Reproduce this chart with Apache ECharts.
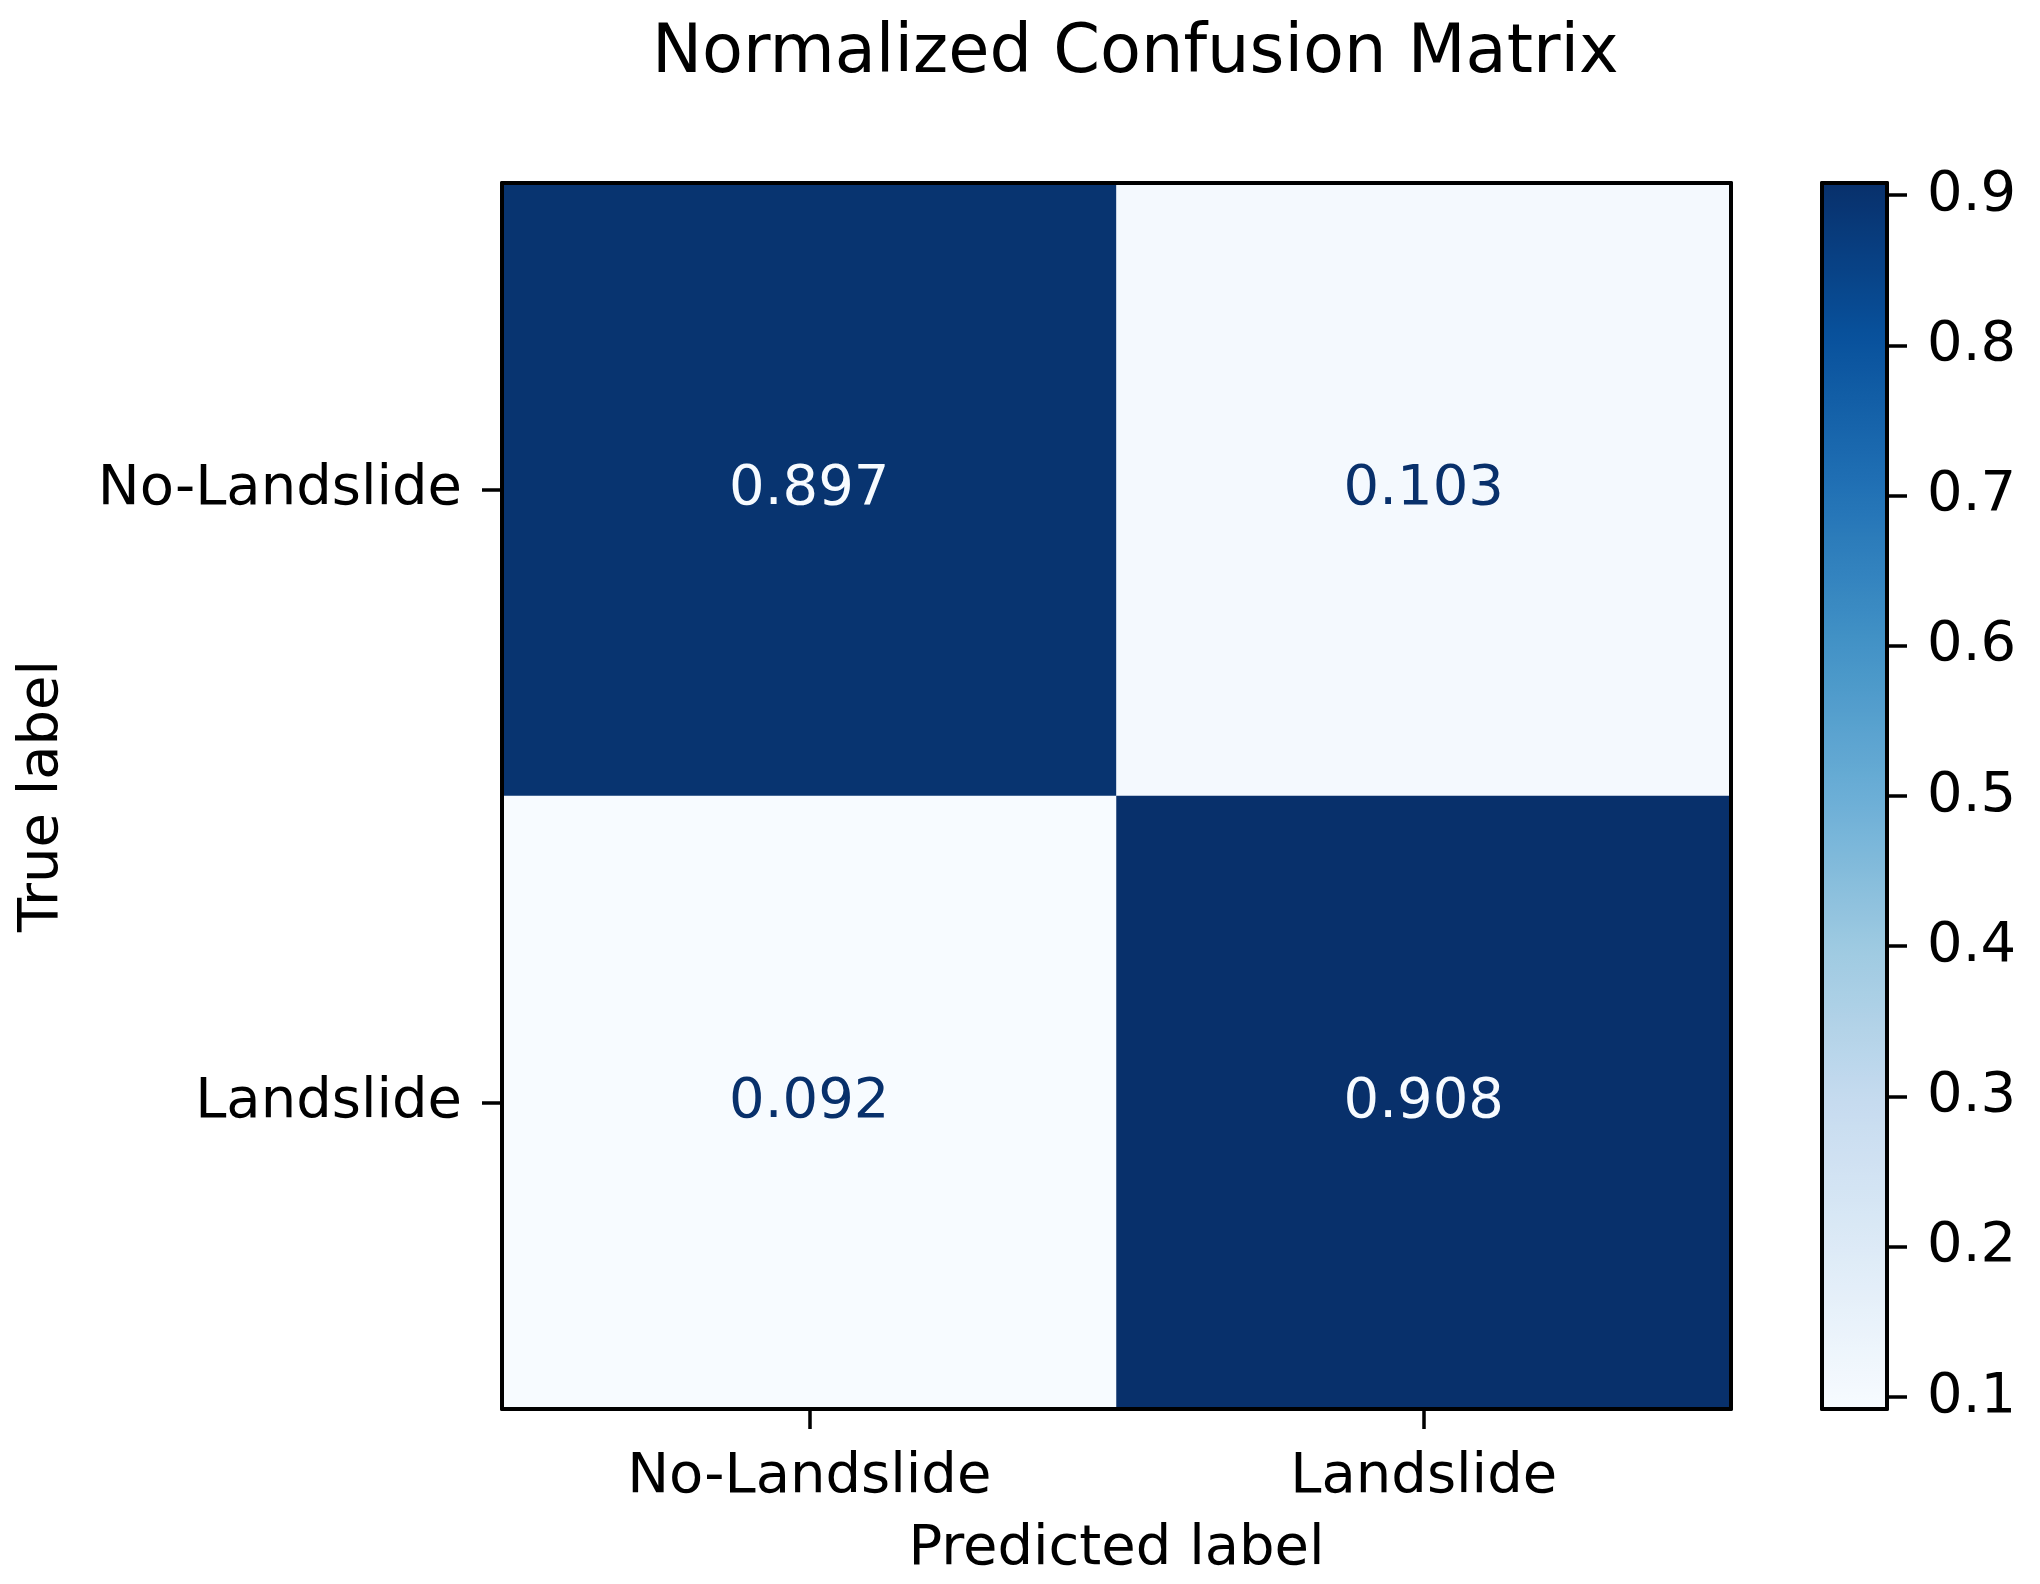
<!DOCTYPE html>
<html>
<head>
<meta charset="utf-8">
<script src="https://cdn.jsdelivr.net/npm/echarts@6/dist/echarts.min.js"></script>
<style>
html,body{margin:0;padding:0;background:#fff;}
#chart{width:2040px;height:1584px;}
</style>
</head>
<body>
<div id="chart"></div>
<script>
// ---- data ----
const predictedLabels = ['No-Landslide', 'Landslide'];
const trueLabels = ['No-Landslide', 'Landslide'];
// rows = true label, cols = predicted label
const matrixRow0 = [0.897, 0.103];
const matrixRow1 = [0.092, 0.908];
const colorbarTicks = [0.1, 0.2, 0.3, 0.4, 0.5, 0.6, 0.7, 0.8, 0.9];
const blues = ['#f7fbff', '#deebf7', '#c6dbef', '#9ecae1', '#6baed6', '#4292c6', '#2171b5', '#08519c', '#08306b'];

const rows = [matrixRow0, matrixRow1];
const cells = [];
rows.forEach((r, yi) => r.forEach((v, xi) => cells.push([xi, yi, v])));
const allVals = cells.map(c => c[2]);
const vMin = Math.min(...allVals);
const vMax = Math.max(...allVals);

const FONT = 'DejaVu Sans';
const FS = 56;
const G = {left: 502, top: 183, width: 1229, height: 1226};
const CB = {left: 1822, top: 183, width: 65, height: 1226};

const chart = echarts.init(document.getElementById('chart'), null, {renderer: 'canvas'});

const frameAxis = (type, pos, gi, extra) => Object.assign({
  type: type, gridIndex: gi, position: pos, z: 10,
  axisLine: {show: true, onZero: false, lineStyle: {color: '#000', width: 4}},
  axisTick: {show: false}, axisLabel: {show: false}, splitLine: {show: false}
}, extra || {});

const mid = (vMin + vMax) / 2;

chart.setOption({
  backgroundColor: '#fff',
  animation: false,
  title: {
    text: 'Normalized Confusion Matrix',
    left: 647, top: 16,
    textStyle: {fontFamily: FONT, fontSize: 67, fontWeight: 'normal', color: '#000'}
  },
  grid: [
    {left: G.left, top: G.top, width: G.width, height: G.height, containLabel: false},
    {left: CB.left, top: CB.top, width: CB.width, height: CB.height, containLabel: false}
  ],
  xAxis: [
    {
      type: 'category', data: predictedLabels, gridIndex: 0, position: 'bottom', z: 10,
      name: 'Predicted label', nameLocation: 'middle', nameGap: 112,
      nameTextStyle: {fontFamily: FONT, fontSize: FS, color: '#000'},
      axisLine: {show: true, lineStyle: {color: '#000', width: 4}},
      axisTick: {show: true, alignWithLabel: true, length: 20, lineStyle: {color: '#000', width: 3.5}},
      axisLabel: {fontFamily: FONT, fontSize: FS, color: '#000', margin: 40},
      splitLine: {show: false}
    },
    frameAxis('category', 'top', 0, {data: predictedLabels}),
    frameAxis('value', 'bottom', 1, {min: 0, max: 1}),
    frameAxis('value', 'top', 1, {min: 0, max: 1})
  ],
  yAxis: [
    {
      type: 'category', data: trueLabels, gridIndex: 0, inverse: true, position: 'left', z: 10,
      name: 'True label', nameLocation: 'middle', nameGap: 432, nameRotate: 90,
      nameTextStyle: {fontFamily: FONT, fontSize: FS, color: '#000'},
      axisLine: {show: true, lineStyle: {color: '#000', width: 4}},
      axisTick: {show: true, alignWithLabel: true, length: 20, lineStyle: {color: '#000', width: 3.5}},
      axisLabel: {fontFamily: FONT, fontSize: FS, color: '#000', margin: 40},
      splitLine: {show: false}
    },
    frameAxis('category', 'right', 0, {data: trueLabels, inverse: true}),
    {
      type: 'value', gridIndex: 1, position: 'right', min: vMin, max: vMax, z: 10,
      axisLine: {show: true, onZero: false, lineStyle: {color: '#000', width: 4}},
      axisTick: {show: true, length: 20, customValues: colorbarTicks, lineStyle: {color: '#000', width: 3.5}},
      axisLabel: {show: true, customValues: colorbarTicks, fontFamily: FONT, fontSize: FS, color: '#000', margin: 40,
        formatter: v => v.toFixed(1)},
      splitLine: {show: false}
    },
    frameAxis('value', 'left', 1, {min: vMin, max: vMax})
  ],
  visualMap: {
    type: 'continuous', seriesIndex: 0, min: vMin, max: vMax,
    orient: 'vertical', left: CB.left, top: CB.top, padding: 0,
    itemWidth: CB.width, itemHeight: CB.height,
    calculable: false, hoverLink: false, text: null, showLabel: false,
    inRange: {color: blues}
  },
  series: [
    {
      type: 'heatmap', xAxisIndex: 0, yAxisIndex: 0,
      data: cells.map(c => ({
        value: c,
        label: {color: c[2] > mid ? blues[0] : blues[blues.length - 1]}
      })),
      label: {
        show: true, fontFamily: FONT, fontSize: FS,
        formatter: p => p.value[2].toFixed(3)
      },
      emphasis: {disabled: true},
      itemStyle: {borderWidth: 0}
    },
    {
      type: 'line', xAxisIndex: 2, yAxisIndex: 2, data: [], silent: true
    }
  ]
});
</script>
</body>
</html>
